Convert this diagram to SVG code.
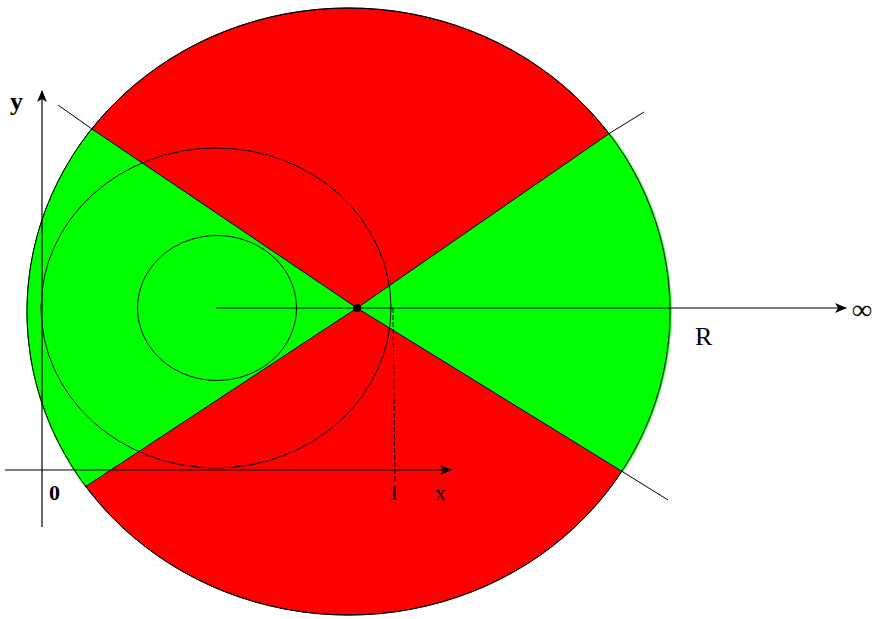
<svg xmlns="http://www.w3.org/2000/svg" width="885" height="619" viewBox="0 0 885 619">
<defs>
<marker id="arr" markerWidth="12" markerHeight="10" refX="11" refY="5" orient="auto" markerUnits="userSpaceOnUse">
<path d="M0,0 L12,5 L0,10 L3,5 Z" fill="#000"/>
</marker>
</defs>
<style>
.ln{stroke:#000;stroke-width:1.2;fill:none}
.thin{stroke:#000;stroke-width:1;fill:none}
.lbl{font-family:"Liberation Serif",serif;fill:#000}
</style>
<rect width="885" height="619" fill="#fff"/>
<g id="disk">
<ellipse cx="348.5" cy="311.5" rx="321.5" ry="303.5" fill="#ff0000" stroke="#000" stroke-width="1"/>
<path d="M357,308 L92,129 A321.5,303.5 0 0 0 85,487 Z" fill="#00ff00"/>
<path d="M357,308 L610,133 A321.5,303.5 0 0 1 623,472 Z" fill="#00ff00"/>
<ellipse cx="348.5" cy="311.5" rx="321.5" ry="303.5" fill="none" stroke="#000" stroke-width="1"/>
</g>
<g id="circles">
<ellipse cx="216" cy="308" rx="175" ry="160" class="thin"/>
<ellipse cx="217" cy="308" rx="79.5" ry="72.5" class="thin"/>
<circle cx="357" cy="308" r="4" fill="#000"/>
</g>
<g id="connectors">
<polyline points="58,105 92,129 357,308 623,472 668,500" class="thin"/>
<polyline points="644,112 610,133 357,308 85,487" class="thin"/>
<line x1="216" y1="308" x2="846" y2="308" class="ln" marker-end="url(#arr)"/>
<line x1="5" y1="470" x2="451" y2="470" class="ln" marker-end="url(#arr)"/>
<line x1="42" y1="527" x2="42" y2="91" class="ln" marker-end="url(#arr)"/>
<line x1="393" y1="308" x2="395" y2="482" class="thin" stroke-dasharray="5,2"/>
</g>
<g id="labels">
<text x="10" y="110" class="lbl" font-size="26" font-weight="bold">y</text>
<text x="49" y="500" class="lbl" font-size="22" font-weight="bold">0</text>
<text x="389" y="500" class="lbl" font-size="20">1</text>
<text x="435" y="500" class="lbl" font-size="22">x</text>
<text x="695" y="345" class="lbl" font-size="26">R</text>
<text x="852" y="319" class="lbl" font-size="28" font-weight="bold">∞</text>
</g>
</svg>
